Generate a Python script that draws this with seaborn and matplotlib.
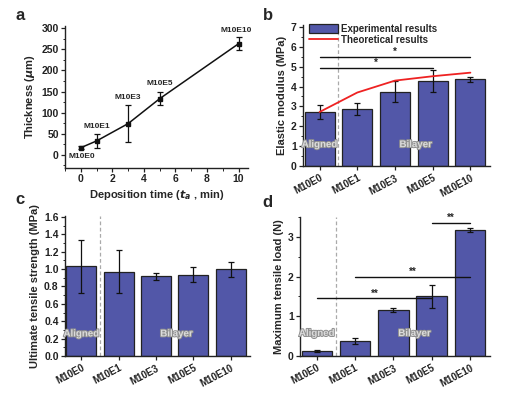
import numpy as np
import pandas as pd
import matplotlib
matplotlib.use("Agg")
import matplotlib.pyplot as plt
import matplotlib.patheffects as pe
from matplotlib.ticker import MultipleLocator
from matplotlib.patches import Patch
from matplotlib.lines import Line2D
import seaborn as sns

sns.set_style("ticks")
plt.rcParams['font.family'] = ['Liberation Sans', 'DejaVu Sans']
plt.rcParams['font.weight'] = 'bold'
plt.rcParams['axes.labelweight'] = 'bold'

# ---- data ----
samples = ["M10E0", "M10E1", "M10E3", "M10E5", "M10E10"]
dep_time = [0, 1, 3, 5, 10]
thickness = [17, 33, 74, 133, 263]
thickness_err = [3, 17, 43, 15, 15]

modulus = [2.72, 2.88, 3.75, 4.28, 4.37]
modulus_err = [0.35, 0.30, 0.55, 0.55, 0.12]
modulus_theory = [2.72, 3.70, 4.30, 4.52, 4.70]

uts = [1.03, 0.97, 0.915, 0.935, 0.995]
uts_err = [0.30, 0.25, 0.045, 0.085, 0.09]

load = [0.13, 0.38, 1.16, 1.50, 3.17]
load_err = [0.02, 0.08, 0.06, 0.30, 0.06]

BAR = "#5257a8"
W, H = 519, 393
fig = plt.figure(figsize=(W / 100, H / 100), dpi=100)


def ax_px(l, r, t, b):
    return fig.add_axes([l / W, 1 - b / H, (r - l) / W, (b - t) / H])


def style(ax):
    sns.despine(ax=ax)
    for s in ("left", "bottom"):
        ax.spines[s].set_linewidth(1.0)
        ax.spines[s].set_color("#222222")
    ax.tick_params(axis="both", which="major", labelsize=7.5, length=3, width=0.9,
                   direction="out", colors="#222222", pad=1.5)
    ax.tick_params(axis="both", which="minor", length=1.8, width=0.7, direction="out")
    for lab in ax.get_yticklabels() + ax.get_xticklabels():
        lab.set_fontweight("bold")


def label_text(ax, x, y, s):
    t = ax.text(x, y, s, ha="center", va="center", fontsize=7, fontweight="bold",
                color="#dcdcdc")
    t.set_path_effects([pe.withStroke(linewidth=1.4, foreground="#909090")])


def bar_panel(ax, vals, errs, ylim, major, minor, ylabel):
    df = pd.DataFrame({"sample": samples, "value": vals})
    sns.barplot(data=df, x="sample", y="value", ax=ax, color=BAR, saturation=1,
                width=0.8, edgecolor="#222222", linewidth=0.9, errorbar=None)
    ax.errorbar(range(len(samples)), vals, yerr=errs, fmt="none", ecolor="#111111",
                elinewidth=0.9, capsize=2.5, capthick=0.9, zorder=5)
    ax.axvline(0.5, color="#aaaaaa", ls=(0, (3, 2)), lw=0.9, zorder=0)
    ax.set_xlim(-0.44, 4.52)
    ax.set_ylim(*ylim)
    ax.yaxis.set_major_locator(MultipleLocator(major))
    ax.yaxis.set_minor_locator(MultipleLocator(minor))
    ax.set_xlabel("")
    ax.set_ylabel(ylabel, fontsize=8, fontweight="bold", labelpad=3)
    style(ax)
    ax.set_xticks(range(len(samples)))
    ax.set_xticklabels(samples, rotation=28, ha="right", rotation_mode="anchor",
                       fontsize=7, fontweight="bold")
    ax.tick_params(axis="x", pad=2)


def sig(ax, x0, x1, y, s):
    ax.plot([x0, x1], [y, y], color="#111111", lw=1.0)
    ax.text((x0 + x1) / 2, y, s, ha="center", va="bottom", fontsize=7, fontweight="bold")


# ---- panel a ----
ax_a = ax_px(65, 248, 26, 168)
dfa = pd.DataFrame({"t": dep_time, "th": thickness})
sns.lineplot(data=dfa, x="t", y="th", ax=ax_a, color="#111111", lw=1.1)
ax_a.errorbar(dep_time, thickness, yerr=thickness_err, fmt="s", ms=2.2, color="#111111",
              elinewidth=0.9, capsize=2.5, capthick=0.9)
ax_a.set_xlim(-1.0, 10.6)
ax_a.set_ylim(-31, 305)
ax_a.xaxis.set_major_locator(MultipleLocator(2))
ax_a.xaxis.set_minor_locator(MultipleLocator(1))
ax_a.yaxis.set_major_locator(MultipleLocator(50))
ax_a.yaxis.set_minor_locator(MultipleLocator(25))
ax_a.set_xlabel(r"Deposition time ($t_a$ , min)", fontsize=8, fontweight="bold", labelpad=3)
ax_a.set_ylabel(r"Thickness ($\mu$m)", fontsize=8, fontweight="bold", labelpad=3)
style(ax_a)
a_lab_pos = [(0.05, -3), (1.0, 68), (3.0, 135), (5.0, 168), (9.85, 295)]
for s, (x, y) in zip(samples, a_lab_pos):
    ax_a.text(x, y, s, ha="center", va="center", fontsize=6, fontweight="bold")

# ---- panel b ----
ax_b = ax_px(303, 490, 25, 166)
bar_panel(ax_b, modulus, modulus_err, (0, 7.1), 1, 0.5, "Elastic modulus (MPa)")
sns.lineplot(x=list(range(len(samples))), y=modulus_theory, ax=ax_b, color="#ee2222",
             lw=1.3, zorder=6)
sig(ax_b, 0, 4, 5.5, "*")
sig(ax_b, 0, 3, 4.95, "*")
label_text(ax_b, 0, 1.1, "Aligned")
label_text(ax_b, 2.55, 1.1, "Bilayer")
handles = [Patch(facecolor=BAR, edgecolor="#222222", lw=0.9),
           Line2D([0], [0], color="#ee2222", lw=1.3)]
ax_b.legend(handles, ["Experimental results", "Theoretical results"], loc="upper left",
            bbox_to_anchor=(0.0, 1.05), frameon=False, handlelength=3.0,
            handleheight=1.1, handletextpad=0.3, labelspacing=0.15, borderaxespad=0.2,
            prop={"weight": "bold", "size": 7})

# ---- panel c ----
ax_c = ax_px(65, 250, 216, 356)
bar_panel(ax_c, uts, uts_err, (0, 1.61), 0.2, 0.1, "Ultimate tensile strength (MPa)")
label_text(ax_c, 0, 0.26, "Aligned")
label_text(ax_c, 2.55, 0.26, "Bilayer")

# ---- panel d ----
ax_d = ax_px(300, 490, 217, 356)
bar_panel(ax_d, load, load_err, (0, 3.5), 1, 0.5, "Maximum tensile load (N)")
sig(ax_d, 0, 3, 1.45, "**")
sig(ax_d, 1, 4, 2.0, "**")
sig(ax_d, 3, 4, 3.35, "**")
label_text(ax_d, 0, 0.58, "Aligned")
label_text(ax_d, 2.55, 0.58, "Bilayer")

# panel letters
for s, (x, y) in zip("abcd", [(15, 16), (263, 16), (15, 200), (262, 202)]):
    fig.text(x / W, 1 - y / H, s, fontsize=12, fontweight="bold", ha="left", va="center")

fig.savefig("out.png", dpi=100)
